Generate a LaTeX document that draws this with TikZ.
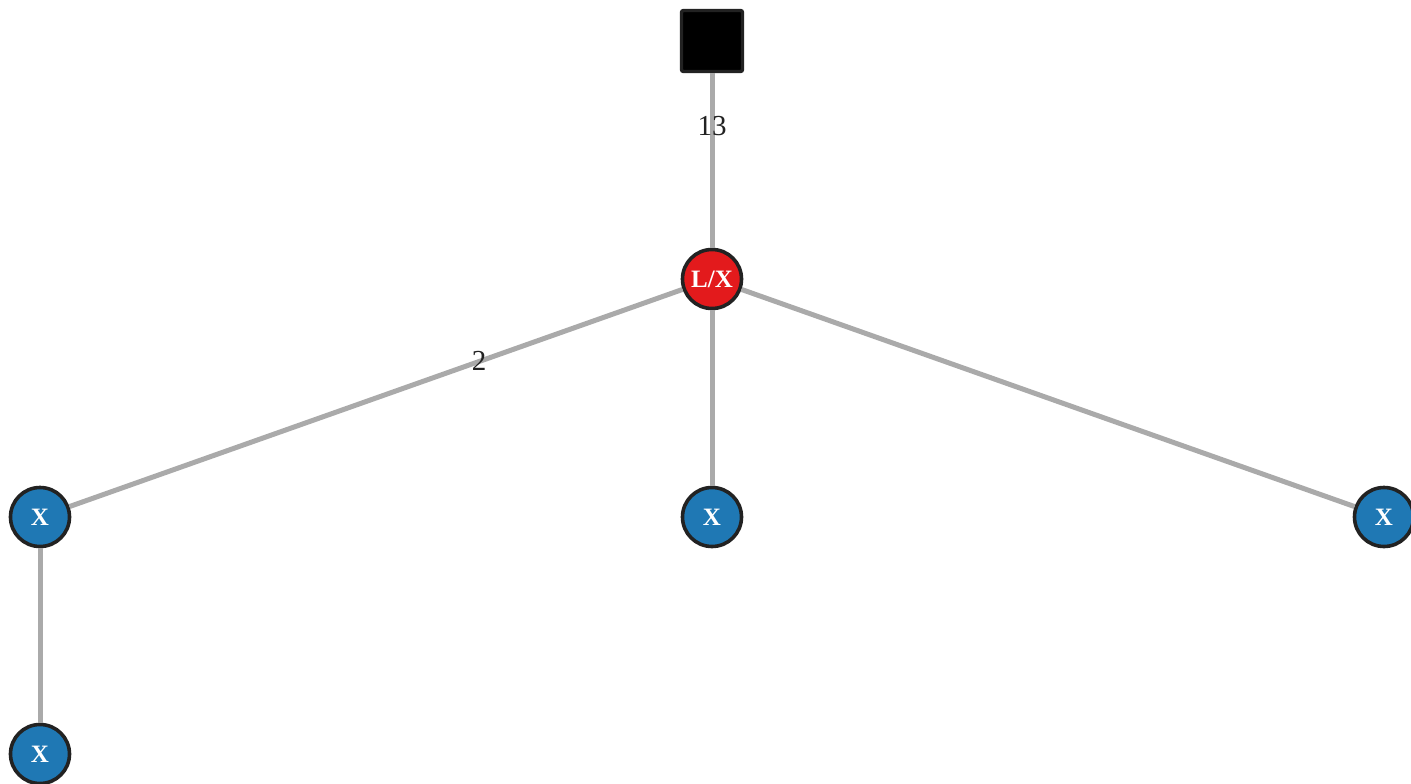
\documentclass[tikz,border=0pt]{standalone}
\usepackage{fontspec}
\setmainfont{Liberation Serif}
\definecolor{nodered}{HTML}{E31A1C}
\definecolor{nodeblue}{HTML}{1F78B4}
\definecolor{edgegray}{HTML}{AAAAAA}
\definecolor{bordergray}{HTML}{222222}
\tikzset{
  vnode/.style={circle, draw=bordergray, line width=3.6pt, minimum size=59pt, inner sep=0pt,
    text=white, font=\fontsize{25}{25}\selectfont\bfseries},
  xnode/.style={vnode, fill=nodeblue},
  lnode/.style={vnode, fill=nodered},
  rootbox/.style={rectangle, rounded corners=2pt, draw=bordergray, line width=3.4pt, fill=black, minimum size=61pt, inner sep=0pt},
  edge/.style={draw=edgegray, line width=5pt},
  elabel/.style={text=bordergray, font=\fontsize{29}{29}\selectfont, inner sep=0pt}
}
\begin{document}
\begin{tikzpicture}[x=1pt,y=-1pt]
\useasboundingbox (0,0) rectangle (1411,784);
\node[rootbox] (root) at (712,41) {};
\node[lnode] (lx) at (712,279) {L/X};
\node[xnode] (x1) at (40,517) {X};
\node[xnode] (x2) at (712,517) {X};
\node[xnode] (x3) at (1384,517) {X};
\node[xnode] (x4) at (40,754) {X};
\draw[edge] (lx) -- (root);
\draw[edge] (x1) -- (lx);
\draw[edge] (x2) -- (lx);
\draw[edge] (x3) -- (lx);
\draw[edge] (x4) -- (x1);
\node[elabel] (l13) at (712,126) {13};
\node[elabel] (l2) at (479,361) {2};
\end{tikzpicture}
\end{document}
